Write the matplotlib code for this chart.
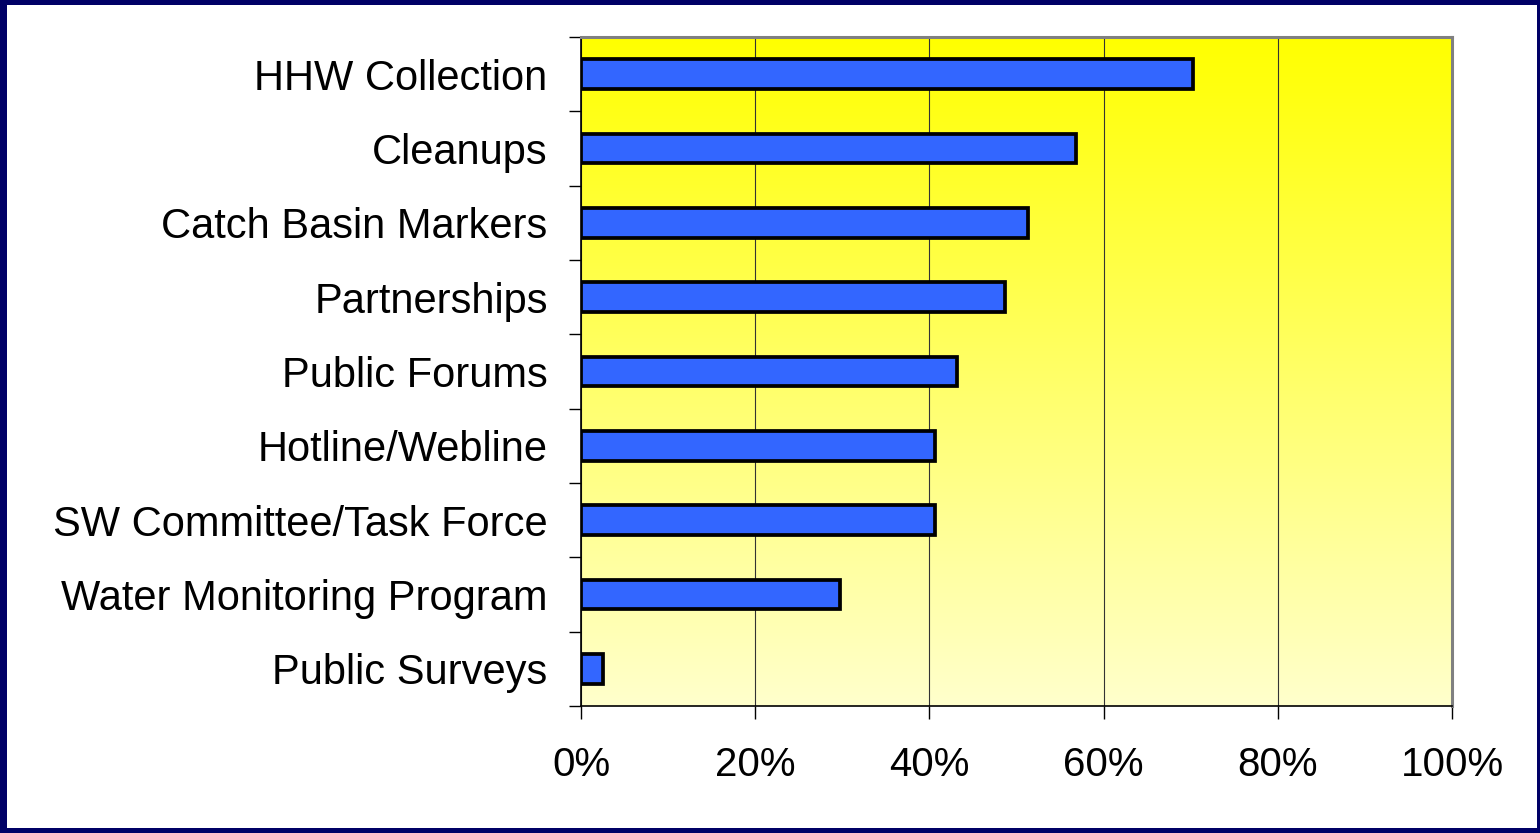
import numpy as np
import matplotlib.pyplot as plt
from matplotlib.patches import Rectangle
from matplotlib.colors import LinearSegmentedColormap
from matplotlib.ticker import FixedLocator, PercentFormatter

plt.rcParams['font.family'] = ['Liberation Sans', 'DejaVu Sans']

# data, top to bottom as shown
categories = [
    "HHW Collection",
    "Cleanups",
    "Catch Basin Markers",
    "Partnerships",
    "Public Forums",
    "Hotline/Webline",
    "SW Committee/Task Force",
    "Water Monitoring Program",
    "Public Surveys",
]
values = [70.3, 56.8, 51.3, 48.7, 43.2, 40.7, 40.7, 29.7, 2.5]
x_ticks = [0, 20, 40, 60, 80, 100]

W, H = 1540, 833
fig = plt.figure(figsize=(W / 100, H / 100), dpi=100)
fig.patch.set_facecolor("#000066")
# white slide area inside the navy frame (kept behind the axes)
fig.patches.append(Rectangle((7 / W, 5 / H), (1537 - 7) / W, (828 - 5) / H,
                             transform=fig.transFigure, facecolor="white",
                             edgecolor="none", zorder=-10))

ax = fig.add_axes([581 / W, 1 - 706 / H, (1452 - 581) / W, (706 - 37) / H])
ax.set_facecolor("none")

# vertical yellow gradient background
cmap = LinearSegmentedColormap.from_list("yel", ["#FFFFCC", "#FFFF00"])
grad = np.linspace(0, 1, 256).reshape(-1, 1)
ax.imshow(grad, cmap=cmap, aspect="auto", origin="lower",
          extent=[0, 1, 0, 1], transform=ax.transAxes, zorder=0)

n = len(categories)
ypos = np.arange(n)[::-1]
ax.barh(ypos, values, height=0.4, color="#3366FF", edgecolor="black",
        linewidth=2.7, zorder=3)

ax.set_xlim(0, 100)
ax.set_ylim(-0.5, n - 0.5)

ax.xaxis.set_major_locator(FixedLocator(x_ticks))
ax.xaxis.set_major_formatter(PercentFormatter(decimals=0))
ax.grid(axis="x", color="#333333", linewidth=0.8, zorder=1)

ax.set_yticks(ypos)
ax.set_yticklabels(categories)
ax.set_yticks(np.arange(-0.5, n, 1.0), minor=True)
ax.tick_params(axis="y", which="major", length=0, pad=24, labelsize=30)
ax.tick_params(axis="y", which="minor", length=9, width=1, color="black")
ax.tick_params(axis="x", which="major", length=9, width=1, pad=20, labelsize=29)

for side in ("left", "bottom"):
    ax.spines[side].set_color("black")
    ax.spines[side].set_linewidth(1.2)
for side in ("top", "right"):
    ax.spines[side].set_color("#808080")
    ax.spines[side].set_linewidth(2.2)

fig.savefig("out.png", dpi=100, facecolor=fig.get_facecolor())
